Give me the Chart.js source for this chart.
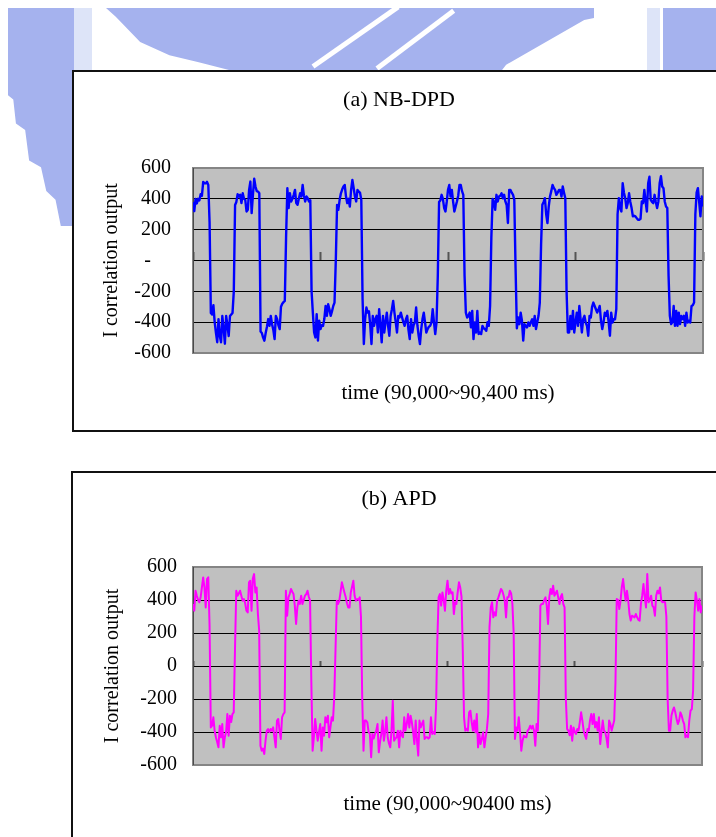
<!DOCTYPE html>
<html>
<head>
<meta charset="utf-8">
<script src="https://cdn.jsdelivr.net/npm/chart.js@4/dist/chart.umd.min.js"></script>
<style>
  html, body { margin: 0; padding: 0; background: #fff; }
  body { position: relative; width: 716px; height: 837px; overflow: hidden; }
  .wm { position: absolute; background: #a5b2ee; }
  .wm-light { position: absolute; background: #dde4f8; }
  .stripe { position: absolute; background: #fff; height: 5px; transform-origin: 0 50%; }
  .panel { position: absolute; box-sizing: border-box; border: 2px solid #111; background: #fff; }
  canvas { position: absolute; }
</style>
</head>
<body>
  <!-- faded emblem behind the page -->
  <div class="wm" style="left:8px;top:8px;width:66px;height:218px;clip-path:polygon(0 0,100% 0,100% 100%,80% 100%,72% 88%,58% 84%,50% 73%,32% 70%,26% 56%,12% 53%,8% 42%,0 40%);"></div>
  <div class="wm-light" style="left:74px;top:8px;width:18px;height:63px;"></div>
  <div class="wm" style="left:106px;top:8px;width:488px;height:63px;clip-path:polygon(0 0,100% 0,100% 16%,98% 19%,82% 90%,81% 100%,26% 100%,19% 86%,13% 75%,7% 54%,2% 14%);"></div>
  <div class="stripe" style="left:313px;top:64px;width:104px;transform:rotate(-35deg);"></div>
  <div class="stripe" style="left:377px;top:66px;width:96px;transform:rotate(-37deg);"></div>
  <div class="wm-light" style="left:647px;top:8px;width:13px;height:63px;"></div>
  <div class="wm" style="left:663px;top:8px;width:53px;height:63px;"></div>

  <div class="panel" style="left:72px;top:70px;width:700px;height:362px;"></div>
  <div class="panel" style="left:71px;top:471px;width:700px;height:500px;"></div>

  <canvas id="chartNb" width="648" height="356" style="left:75px;top:73px;"></canvas>
  <canvas id="chartApd" width="650" height="364" style="left:74px;top:473px;"></canvas>

<script>
// Sample times (ms), one sample per millisecond over the 400 ms window
const timeMs = Array.from({ length: 401 }, (_, i) => 90000 + i);

// I correlation output, NB-DPD (one row = 10 ms)
const nbDpd = [
  380, 320, 400, 370, 400, 390, 430, 420, 510, 500,
  500, 510, 490, 250, -340, -350, -290, -400, -470, -530,
  -380, -490, -530, -360, -440, -540, -360, -420, -490, -360,
  -350, -340, -200, 360, 380, 430, 415, 426, 372, 436,
  400, 393, 318, 329, 458, 512, 307, 426, 530, 480,
  450, 447, 436, -460, -470, -500, -520, -470, -430, -380,
  -424, -360, -413, -450, -510, -359, -381, -420, -445, -300,
  -280, -270, -262, 150, 469, 340, 436, 383, 400, 426,
  458, 372, 361, 400, 436, 415, 490, 420, 383, 415,
  404, 383, 390, -200, -338, -467, -499, -348, -520, -391,
  -445, -420, -424, -380, -295, -359, -284, -316, -359, -330,
  -295, -273, 0, 361, 329, 393, 436, 460, 480, 490,
  415, 372, 400, 350, 458, 522, 470, 415, 383, 458,
  447, 440, 393, -250, -542, -381, -305, -338, -330, -420,
  -542, -359, -424, -380, -359, -467, -316, -420, -531, -359,
  -467, -400, -338, -424, -488, -360, -316, -262, -338, -400,
  -467, -359, -370, -338, -370, -400, -424, -381, -359, -450,
  -510, -381, -467, -420, -402, -305, -420, -488, -542, -445,
  -380, -338, -402, -467, -445, -430, -424, -402, -316, -400,
  -477, -402, -100, 380, 390, 426, 400, 340, 318, 380,
  458, 490, 415, 458, 383, 318, 350, 383, 420, 490,
  490, 450, 426, -100, -338, -370, -360, -338, -434, -327,
  -510, -402, -467, -327, -477, -467, -477, -424, -440, -445,
  -456, -400, -424, -295, 150, 400, 380, 329, 426, 383,
  415, 420, 436, 404, 426, 383, 360, 243, 458, 458,
  440, 426, 393, -50, -440, -370, -413, -338, -391, -520,
  -413, -424, -434, -402, -424, -400, -381, -424, -359, -445,
  -400, -359, -273, 100, 361, 380, 404, 300, 243, 350,
  415, 450, 490, 470, 458, 426, 440, 458, 458, 415,
  480, 440, 404, -200, -467, -467, -359, -445, -327, -467,
  -402, -338, -424, -295, -381, -467, -380, -359, -402, -424,
  -488, -359, -370, -300, -273, -295, -316, -338, -320, -295,
  -391, -445, -400, -338, -359, -327, -400, -488, -338, -402,
  -381, -381, -316, 300, 404, 340, 318, 501, 440, 404,
  340, 372, 436, 380, 340, 286, 290, 286, 275, 264,
  264, 270, 383, 372, 458, 380, 318, 501, 543, 393,
  380, 372, 426, 380, 340, 383, 501, 547, 480, 469,
  383, 350, 340, -100, -359, -413, -400, -295, -424, -327,
  -424, -338, -413, -359, -380, -359, -424, -338, -402, -391,
  -402, -295, -290, -273, 300, 440, 469, 380, 286, 415,
  350
];

// I correlation output, APD (one row = 10 ms)
const apd = [
  376, 335, 456, 426, 400, 386, 416, 476, 537, 476,
  355, 527, 537, 250, -372, -362, -311, -392, -432, -460,
  -493, -362, -432, -352, -493, -432, -400, -291, -422, -301,
  -340, -291, -281, 100, 456, 426, 440, 456, 426, 396,
  406, 380, 335, 325, 507, 517, 335, 530, 557, 446,
  476, 315, 214, -483, -513, -500, -533, -453, -392, -382,
  -400, -382, -392, -372, -432, -493, -331, -321, -392, -442,
  -311, -291, -281, 456, 305, 416, 436, 467, 450, 436,
  366, 255, 355, 396, 376, 426, 376, 400, 426, 436,
  456, 420, 396, -100, -513, -432, -321, -392, -453, -400,
  -352, -513, -372, -422, -311, -341, -301, -432, -372, -311,
  -331, -190, 100, 396, 376, 396, 450, 507, 476, 446,
  416, 380, 355, 355, 446, 480, 517, 426, 396, 406,
  400, 416, 300, -200, -513, -331, -331, -341, -400, -412,
  -553, -412, -440, -412, -392, -352, -523, -460, -412, -331,
  -453, -400, -311, -432, -470, -493, -392, -210, -453, -440,
  -432, -392, -493, -392, -420, -432, -311, -392, -350, -291,
  -372, -301, -341, -400, -473, -331, -450, -543, -331, -372,
  -350, -331, -442, -432, -432, -440, -432, -311, -412, -400,
  -412, -250, 150, 416, 436, 366, 446, 400, 335, 456,
  517, 436, 467, 440, 446, 315, 386, 376, 446, 507,
  476, 420, 100, -311, -392, -380, -392, -281, -271, -340,
  -392, -331, -402, -291, -493, -412, -473, -440, -402, -493,
  -432, -380, -291, 234, 355, 386, 295, 325, 305, 396,
  416, 440, 467, 456, 430, 396, 295, 416, 416, 456,
  440, 376, 200, -442, -372, -392, -311, -400, -513, -453,
  -422, -430, -432, -392, -382, -362, -380, -362, -392, -483,
  -352, -392, -100, 366, 376, 376, 400, 416, 366, 255,
  416, 467, 436, 487, 426, 440, 456, 416, 376, 420,
  436, 376, 355, -200, -382, -392, -420, -362, -453, -372,
  -400, -412, -382, -392, -340, -281, -331, -392, -420, -442,
  -382, -392, -330, -291, -352, -291, -372, -340, -392, -311,
  -473, -400, -331, -392, -402, -440, -493, -331, -352, -392,
  -360, -331, -100, 406, 400, 345, 396, 480, 527, 456,
  396, 456, 400, 315, 275, 305, 300, 295, 315, 295,
  280, 275, 376, 426, 497, 416, 355, 557, 386, 400,
  426, 366, 355, 305, 426, 456, 440, 476, 396, 386,
  390, 386, 300, -200, -392, -392, -300, -271, -251, -281,
  -320, -352, -331, -281, -300, -331, -352, -432, -420, -432,
  -331, -271, -261, -150, 300, 446, 396, 335, 406, 325,
  366
];

// Value-axis ticks and their printed labels
const yTickValues = [-600, -400, -200, 0, 200, 400, 600];
const yLabelsNb  = ['-600', '-400', '-200', '-\u00a0\u00a0\u00a0\u00a0', '200', '400', '600'];
const yLabelsApd = ['-600', '-400', '-200', '0', '200', '400', '600'];

const SERIF = "'Liberation Serif', 'Times New Roman', serif";

// Grey plot area with a darker frame
const plotFrame = {
  id: 'plotFrame',
  beforeDraw(chart) {
    const { ctx, chartArea: a } = chart;
    ctx.save();
    ctx.fillStyle = '#c0c0c0';
    ctx.fillRect(a.left, a.top, a.width, a.height);
    ctx.restore();
  },
  beforeDatasetsDraw(chart) {
    const { ctx, chartArea: a } = chart;
    ctx.save();
    ctx.strokeStyle = '#858585';
    ctx.lineWidth = 2;
    ctx.strokeRect(a.left, a.top, a.width, a.height);
    ctx.strokeStyle = '#4a4a4a';
    ctx.lineWidth = 1;
    ctx.beginPath();
    ctx.moveTo(a.left + 0.5, a.top);
    ctx.lineTo(a.left + 0.5, a.bottom);
    ctx.stroke();
    ctx.restore();
  }
};

function makeChart(id, p) {
  const points = timeMs.map((t, i) => ({ x: t, y: p.values[i] }));
  return new Chart(document.getElementById(id), {
    type: 'line',
    data: {
      datasets: [{
        data: points,
        borderColor: p.color,
        borderWidth: p.lineWidth,
        pointRadius: 0,
        tension: 0,
        borderJoinStyle: 'round',
        fill: false
      }]
    },
    options: {
      responsive: false,
      animation: false,
      events: [],
      layout: { padding: { left: p.side, right: p.side, top: 0, bottom: 0 } },
      plugins: {
        legend: { display: false },
        tooltip: { enabled: false },
        title: {
          display: true,
          text: p.title,
          color: '#000',
          font: { family: SERIF, size: 22, weight: 'normal', lineHeight: 1.2 },
          padding: p.titlePad
        }
      },
      scales: {
        x: {
          type: 'linear',
          position: 'bottom',
          min: 90000,
          max: 90400,
          grid: { display: false },
          border: { display: false },
          ticks: { display: false },
          title: {
            display: true,
            text: p.xTitle,
            color: '#000',
            font: { family: SERIF, size: 21, weight: 'normal', lineHeight: 1.2 },
            padding: { top: 0, bottom: p.xTitlePad }
          },
          afterFit(scale) { scale.height = p.xHeight; }
        },
        xZero: {
          type: 'linear',
          axis: 'x',
          position: { y: 0 },
          min: 90000,
          max: 90400,
          ticks: { display: false, stepSize: 100 },
          grid: {
            display: true,
            drawOnChartArea: false,
            drawTicks: true,
            tickLength: -p.tickLen,
            tickColor: '#555',
            tickWidth: 2
          },
          border: { display: true, color: '#000', width: 1 }
        },
        y: {
          type: 'linear',
          position: 'left',
          min: -600,
          max: 600,
          afterBuildTicks(axis) { axis.ticks = yTickValues.map(v => ({ value: v })); },
          ticks: {
            color: '#000',
            padding: p.yTickPad,
            font: { family: SERIF, size: 20, weight: 'normal' },
            callback: (v) => p.yLabels[yTickValues.indexOf(v)]
          },
          grid: {
            drawTicks: false,
            color: (c) => (Math.abs(c.tick.value) === 600 ? 'rgba(0,0,0,0)' : '#000'),
            lineWidth: 1
          },
          border: { display: false },
          title: {
            display: true,
            text: 'I correlation output',
            color: '#000',
            font: { family: SERIF, size: 20, weight: 'normal', lineHeight: 1.2 },
            padding: { top: 5, bottom: 0 }
          },
          afterFit(scale) { scale.width = p.yWidth; }
        }
      }
    },
    plugins: [plotFrame]
  });
}

makeChart('chartNb', {
  values: nbDpd, color: '#0000ff', lineWidth: 2.4,
  title: '(a) NB-DPD', xTitle: 'time (90,000~90,400 ms)', yLabels: yLabelsNb,
  side: 20, titlePad: { top: 13.8, bottom: 54.8 },
  yWidth: 98, yTickPad: 22, xHeight: 76, xTitlePad: 23.4, tickLen: 9
});

makeChart('chartApd', {
  values: apd, color: '#ff00ff', lineWidth: 2,
  title: '(b) APD', xTitle: 'time (90,000~90400 ms)', yLabels: yLabelsApd,
  side: 22, titlePad: { top: 12.8, bottom: 54.8 },
  yWidth: 97, yTickPad: 16, xHeight: 72, xTitlePad: 20.4, tickLen: 6
});
</script>
</body>
</html>
